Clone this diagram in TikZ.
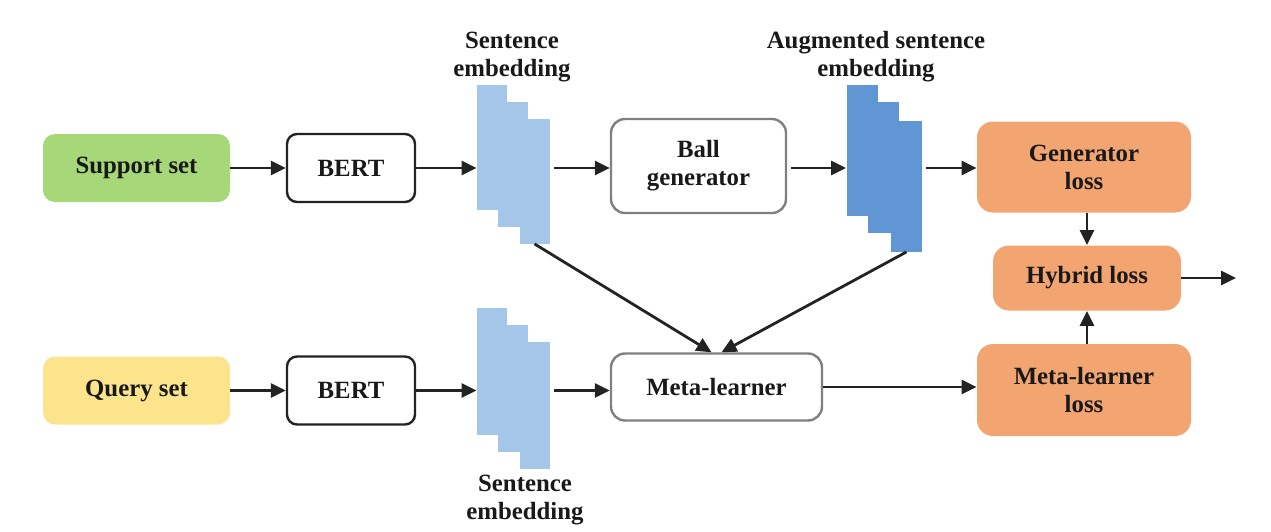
\documentclass[tikz,border=0pt]{standalone}
\usepackage{fontspec}
\setmainfont{Liberation Serif}
\usetikzlibrary{arrows.meta,positioning}

\definecolor{supportgreen}{RGB}{166,216,122}
\definecolor{queryyellow}{RGB}{251,228,140}
\definecolor{lossorange}{RGB}{242,165,112}
\definecolor{embblue}{RGB}{164,198,232}
\definecolor{augblue}{RGB}{96,150,212}
\definecolor{boxgray}{RGB}{128,128,128}
\definecolor{arrowblack}{RGB}{35,35,35}

\tikzset{
  lbl/.style={font=\bfseries\fontsize{12.4}{14}\selectfont, text=black!90, align=center},
  setbox/.style={lbl, rounded corners=6pt, minimum width=93.5pt, minimum height=34pt},
  bertbox/.style={lbl, draw=arrowblack, line width=1.2pt, rounded corners=5pt,
    minimum width=64pt, minimum height=34pt},
  graybox/.style={lbl, draw=boxgray, line width=1.2pt, rounded corners=7pt},
  lossbox/.style={lbl, fill=lossorange, rounded corners=8pt},
  emb/.style={inner sep=0pt, minimum width=15pt},
  arr/.style={-{Triangle[length=7.5pt,width=7pt]}, line width=1.4pt, draw=arrowblack}
}

\begin{document}
\begin{tikzpicture}[x=0.5pt,y=-0.5pt]
  \useasboundingbox (0,0) rectangle (1271,531);

  % inputs and encoders
  \node[setbox, fill=supportgreen] (support) at (136.5,168) {Support set};
  \node[setbox, fill=queryyellow] (query) at (136.5,390.5) {Query set};
  \node[bertbox] (bert1) at (351,168) {BERT};
  \node[bertbox] (bert2) at (351,390.5) {BERT};

  % embedding stacks
  \foreach \i/\dx/\dy in {1/0/0,2/20.5/16.5,3/42.5/33.5} {
    \node[emb, fill=embblue, minimum height=62.5pt] (se1-\i) at (492+\dx,147.5+\dy) {};
    \node[emb, fill=embblue, minimum height=63.5pt] (se2-\i) at (492+\dx,371.5+\dy) {};
  }
  \foreach \i/\dx/\dy in {1/0/0,2/21/16.5,3/44.5/35.5}
    \node[emb, fill=augblue, minimum width=15.5pt, minimum height=65.5pt] (aug-\i) at (862+\dx,150.5+\dy) {};

  \node[lbl] (se1lab) at (512,57) {Sentence\\embedding};
  \node[lbl] (se2lab) at (525,500) {Sentence\\embedding};
  \node[lbl] (auglab) at (876,57) {Augmented sentence\\embedding};

  % generator and meta-learner
  \node[graybox, minimum width=87.5pt, minimum height=47pt] (ball) at (698.5,166) {Ball\\generator};
  \node[graybox, minimum width=105.5pt, minimum height=33.5pt] (meta) at (716.5,387) {Meta-learner};

  % losses
  \node[lossbox, minimum width=107pt, minimum height=45.5pt] (genloss) at (1084,167) {Generator\\loss};
  \node[lossbox, minimum width=94pt, minimum height=32.5pt] (hybrid) at (1087,278) {Hybrid loss};
  \node[lossbox, minimum width=107pt, minimum height=46pt] (mlloss) at (1084,390) {Meta-learner\\loss};
  \coordinate (out) at (1236,278);

  % connectors
  \draw[arr] (support) -- (bert1);
  \draw[arr] (query) -- (bert2);
  \draw[arr] (bert1) -- (bert1 -| se1-1.west);
  \draw[arr] (bert2) -- (bert2 -| se2-1.west);
  \draw[arr, shorten <=2pt] (se1-3.east |- bert1) -- (ball.west |- bert1);
  \draw[arr, shorten <=2pt] (se2-3.east |- bert2) -- (meta.west |- bert2);
  \draw[arr, shorten <=2pt] (ball.east |- bert1) -- (aug-1.west |- bert1);
  \draw[arr, shorten <=2pt] (aug-3.east |- bert1) -- (genloss.west |- bert1);
  \draw[arr] (se1-3.south) -- ([xshift=-2.5pt]meta.north);
  \draw[arr] (aug-3.south) -- ([xshift=2.5pt]meta.north);
  \draw[arr] (meta) -- (mlloss.west |- meta);
  \draw[arr] (genloss.south -| hybrid) -- (hybrid);
  \draw[arr] (mlloss.north -| hybrid) -- (hybrid);
  \draw[arr] (hybrid) -- (out);
\end{tikzpicture}
\end{document}
